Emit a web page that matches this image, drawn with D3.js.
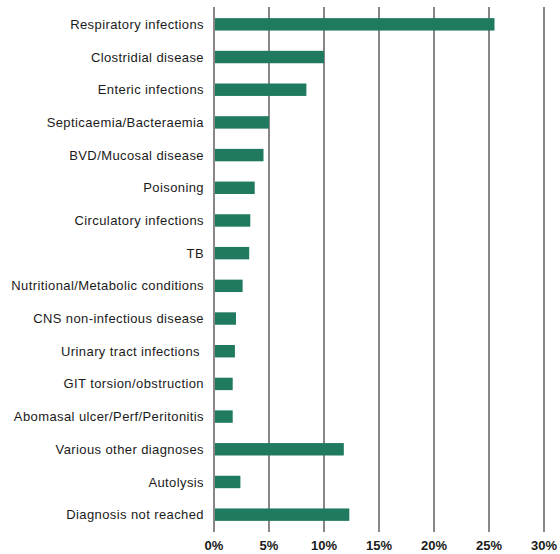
<!DOCTYPE html>
<html><head><meta charset="utf-8">
<script src="https://cdn.jsdelivr.net/npm/d3@7"></script>
<style>body{margin:0;background:#fff}svg{display:block}</style>
</head><body>
<svg id="c" width="560" height="554"></svg>
<script>
const categories = ["Respiratory infections","Clostridial disease","Enteric infections","Septicaemia/Bacteraemia","BVD/Mucosal disease","Poisoning","Circulatory infections","TB","Nutritional/Metabolic conditions","CNS non-infectious disease","Urinary tract infections ","GIT torsion/obstruction","Abomasal ulcer/Perf/Peritonitis","Various other diagnoses","Autolysis","Diagnosis not reached"];
const values = [25.5,10.0,8.4,5.0,4.5,3.7,3.3,3.2,2.6,2.0,1.9,1.7,1.7,11.8,2.4,12.3];
const ticks = [0,5,10,15,20,25,30];

const svg = d3.select("#c");
const x = d3.scaleLinear().domain([0,30]).range([214,544]);
const y = d3.scaleBand().domain(categories).range([8,531]).paddingInner(0.62).paddingOuter(0.31);

svg.append("g").selectAll("line").data(ticks).join("line")
  .attr("x1",d=>x(d)).attr("x2",d=>x(d)).attr("y1",7).attr("y2",532)
  .attr("stroke","#4d4545").attr("stroke-width",1.3);

svg.append("g").selectAll("rect").data(values).join("rect")
  .attr("x",x(0)+1).attr("y",(d,i)=>y(categories[i]))
  .attr("width",d=>x(d)-x(0)-1).attr("height",y.bandwidth())
  .attr("fill","#1f7a60");

svg.append("g").selectAll("text").data(categories).join("text")
  .attr("x",204).attr("y",d=>y(d)+y.bandwidth()/2).attr("dy","0.35em")
  .attr("text-anchor","end").attr("font-family","Liberation Sans, Arial, sans-serif")
  .attr("font-size",13).attr("letter-spacing","0.4px").attr("fill","#1a1a1a")
  .style("white-space","pre").text(d=>d);

svg.append("g").selectAll("text").data(ticks).join("text")
  .attr("x",d=>x(d)).attr("y",545).attr("dy","0.35em").attr("text-anchor","middle")
  .attr("font-family","Liberation Sans, Arial, sans-serif").attr("font-weight","bold")
  .attr("font-size",13).attr("fill","#1a1a1a").text(d=>d+"%");
</script>
</body></html>
